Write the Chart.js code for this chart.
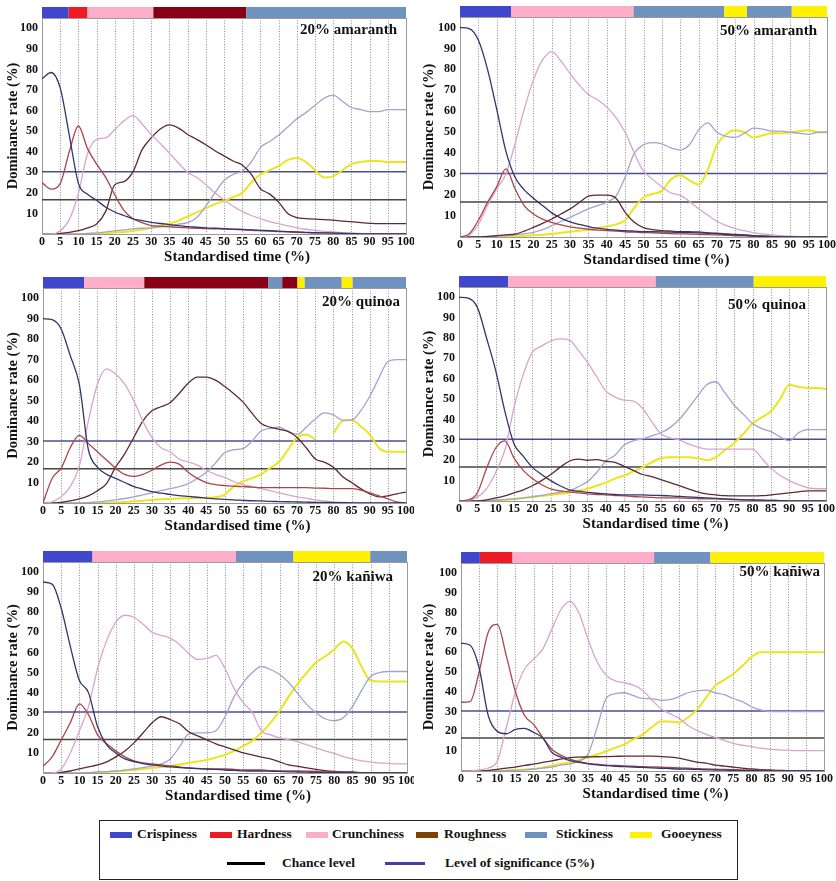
<!DOCTYPE html>
<html>
<head>
<meta charset="utf-8">
<title>Temporal dominance of sensations</title>
<script src="https://cdn.jsdelivr.net/npm/chart.js@4.4.1/dist/chart.umd.min.js"></script>
<style>
  html, body { margin: 0; padding: 0; background: #fff; }
  body { width: 836px; height: 881px; position: relative; overflow: hidden;
         font-family: "Liberation Serif", "Times New Roman", serif; }
  .panel { position: absolute; overflow: hidden; }
  .panel canvas { display: block; }
  #legend { position: absolute; left: 99px; top: 820px; width: 639px; height: 60px;
            border: 1px solid #222; box-sizing: border-box; }
  .item { position: absolute; font-weight: bold; font-size: 13.5px; color: #111;
          line-height: 16px; white-space: nowrap; }
  .swatch { position: absolute; height: 6px; width: 22px; }
  .rule { position: absolute; height: 3px; }
</style>
</head>
<body>

<div id="legend"></div>

<script>
// ---- data -------------------------------------------------------------
const time = [0, 2.5, 5, 7.5, 10, 12.5, 15, 17.5, 20, 22.5, 25, 27.5, 30, 32.5, 35, 37.5, 40,
  42.5, 45, 47.5, 50, 52.5, 55, 57.5, 60, 62.5, 65, 67.5, 70, 72.5, 75, 77.5, 80, 82.5, 85,
  87.5, 90, 92.5, 95, 97.5, 100];
const xTicks = [0, 5, 10, 15, 20, 25, 30, 35, 40, 45, 50, 55, 60, 65, 70, 75, 80, 85, 90, 95, 100];
const yTicks = [10, 20, 30, 40, 50, 60, 70, 80, 90, 100];
const attributes = ['Crispiness', 'Hardness', 'Crunchiness', 'Roughness', 'Stickiness', 'Gooeyness'];
const chanceLevel = 16.7;
const significanceLevel = 30.3;

// 20% amaranth
const am20Crispiness = [75.5, 78.5, 71, 48, 24.6, 19.3, 16.4, 13, 10.7, 9,
  7.4, 6.5, 5.7, 5.1, 4.6, 4.1, 3.6, 3.3, 3, 2.8,
  2.6, 2.4, 2.2, 2, 1.8, 1.6, 1.4, 1.2, 1, 0.8,
  0.6, 0.5, 0.4, 0.3, 0.2, 0.1, 0, 0, 0, 0, 0];
const am20Hardness = [25, 21.8, 24.5, 40, 52.5, 41.5, 34, 27.5, 19, 11.5,
  7.4, 5.5, 4.1, 3.8, 3.5, 3.2, 3, 2.8, 2.6, 2.5,
  2.4, 2.2, 2, 1.8, 1.6, 1.4, 1.2, 1, 0.8, 0.7,
  0.6, 0.5, 0.4, 0.3, 0.2, 0.1, 0, 0, 0, 0, 0];
const am20Crunchiness = [0, 0, 1.6, 7, 19.7, 39, 46, 46.7, 50.8, 55,
  57.5, 53.5, 48.4, 44, 39.3, 34.5, 30, 27.5, 24, 20,
  16.5, 13.5, 11, 9, 7.5, 6, 5, 4, 3, 2.3,
  1.8, 1.3, 1, 0.7, 0.5, 0.3, 0, 0, 0, 0, 0];
const am20Roughness = [0, 0, 0.3, 0.8, 1.6, 3, 4.9, 11, 24, 25.5,
  30.3, 41, 46.7, 51, 53, 51.5, 48.4, 46, 43.4, 40.5,
  38, 35.5, 33.5, 29, 22, 19.5, 15.5, 10, 8, 7.5,
  7.2, 7, 6.7, 6.3, 6, 5.5, 5.2, 5, 5, 5, 5];
const am20Stickiness = [0, 0, 0, 0, 0, 0.3, 0.5, 1, 1.5, 2,
  2.5, 2.8, 3, 3.5, 4, 4.8, 5.5, 8, 13.5, 20,
  26, 29, 30.5, 35, 42, 45, 48, 52, 56, 59,
  62.5, 66, 67.5, 64.5, 61.5, 60.5, 59.5, 59.5, 60.5, 60.5, 60.5];
const am20Gooeyness = [0, 0, 0, 0, 0, 0, 0.2, 0.4, 0.7, 1,
  1.5, 2, 3, 4, 5, 6.5, 8.5, 10.5, 12.5, 14.5,
  16, 18, 20, 25, 29, 31, 33, 36, 37, 35,
  31, 27.5, 28, 31, 34, 35, 35.5, 35.5, 35, 35, 35];
const am20Dominant = [[0, 7.3, 'Crispiness'], [7.3, 12.5, 'Hardness'], [12.5, 30.6, 'Crunchiness'],
  [30.6, 56.1, 'Roughness'], [56.1, 100, 'Stickiness']];

// 50% amaranth
const am50Crispiness = [100, 99.5, 94, 80, 61, 41, 28.5, 22.5, 18.5, 15,
  11.5, 9, 7.2, 6, 5, 4.2, 3.6, 3.3, 3, 2.8,
  2.6, 2.5, 2.4, 2.3, 2.2, 2.1, 2, 1.8, 1.6, 1.3,
  1, 0.8, 0.5, 0.3, 0.2, 0.1, 0, 0, 0, 0, 0];
const am50Hardness = [0, 1.5, 8, 16.5, 24, 32.5, 23, 15, 11, 8.5,
  7, 5.8, 4.8, 4.2, 3.7, 3.3, 3, 2.8, 2.5, 2.3,
  2.1, 2, 1.8, 1.6, 1.5, 1.4, 1.3, 1.1, 1, 0.8,
  0.6, 0.5, 0.3, 0.2, 0.1, 0, 0, 0, 0, 0, 0];
const am50Crunchiness = [0, 1, 6, 15, 23, 30, 44.5, 61, 75, 84.5,
  88.5, 84, 78, 72.5, 68, 65.5, 62, 57, 50, 40,
  31.5, 27.5, 24, 21, 20, 17, 13.5, 10.5, 7.5, 5.5,
  4, 3, 2, 1.5, 1, 0.6, 0.4, 0.2, 0, 0, 0];
const am50Roughness = [0, 0, 0, 0.3, 0.6, 1, 1.4, 2.8, 4.6, 6.5,
  8.6, 11, 13.4, 16.5, 19.5, 20, 20, 18.5, 11.8, 7,
  4.5, 3.5, 3, 2.8, 2.6, 2.5, 2.4, 2, 1.8, 1.5,
  1.2, 1, 0.7, 0.5, 0.3, 0.1, 0, 0, 0, 0, 0];
const am50Stickiness = [0, 0, 0, 0.2, 0.4, 0.7, 1, 1.6, 2.2, 3.5,
  5.4, 7.4, 9.4, 11.4, 13.4, 15, 16.6, 19.5, 28.6, 40,
  44, 45, 44.5, 42.5, 41.5, 44, 51, 54.5, 50, 48,
  47.5, 49.5, 52, 51.5, 50.5, 50.5, 50, 49.5, 49, 50, 50];
const am50Gooeyness = [0, 0, 0, 0, 0.1, 0.2, 0.3, 0.5, 0.8, 1.1,
  1.5, 2, 2.5, 3, 3.5, 4.2, 5, 6, 8, 14,
  19, 20.5, 22, 27.5, 29.5, 27, 25, 32, 44, 49,
  51, 50, 47.5, 48.5, 49.5, 49.5, 50, 50.5, 51, 50, 50];
const am50Dominant = [[0, 13.9, 'Crispiness'], [13.9, 47.3, 'Crunchiness'], [47.3, 72, 'Stickiness'],
  [72, 78.2, 'Gooeyness'], [78.2, 90.4, 'Stickiness'], [90.4, 100, 'Gooeyness']];

// 20% quinoa
const qu20Crispiness = [90, 89.5, 85, 72, 58, 26, 17.5, 14, 12, 10,
  8, 6.8, 5.5, 4.8, 4.2, 3.6, 3.2, 2.8, 2.4, 2,
  1.8, 1.5, 1.3, 1.1, 1, 0.8, 0.7, 0.6, 0.5, 0.4,
  0.3, 0.3, 0.2, 0.2, 0.1, 0, 0, 0, 0, 0, 0];
const qu20Hardness = [0, 12, 17, 27, 33, 29, 25, 21, 17, 14,
  13, 14, 16, 18.5, 20, 19, 15, 12, 10, 9,
  8.5, 8.2, 8, 7.8, 7.5, 7.5, 7.5, 7.5, 7.5, 7.5,
  7.3, 7.2, 7, 7, 7, 6.3, 5, 3.5, 2, 0.5, 0];
const qu20Crunchiness = [0, 0.5, 3, 8, 18, 40, 58, 65.5, 63, 58,
  50, 40, 32, 27, 25, 21.5, 20, 18.5, 16, 14,
  12.5, 10.5, 9, 8, 7, 6, 5, 4, 3, 2.3,
  1.5, 1, 0.5, 0.3, 0.2, 0.1, 0, 0, 0, 0, 0];
const qu20Roughness = [0, 0, 0.3, 1, 2, 3.5, 6, 9.5, 17.5, 24,
  32, 40, 45, 47, 49, 53.5, 58.5, 61.5, 61.5, 60,
  57, 53.5, 49.5, 44, 39, 37, 36, 35, 32, 27,
  21.5, 20, 17.5, 13, 10, 7, 4.5, 3, 3.5, 4.5, 5.3];
const qu20Stickiness = [0, 0, 0, 0, 0, 0.2, 0.5, 1, 1.5, 2.2,
  3, 4, 5, 6, 7, 8, 9.5, 12, 15, 19.5,
  24.5, 26, 26.5, 30, 35, 36.5, 37, 35, 33.5, 37,
  41, 44, 43, 40.5, 40.5, 45, 52, 61, 69, 70, 70];
const qu20Gooeyness = [0, 0, 0, 0, 0, 0, 0, 0.2, 0.3, 0.5,
  0.8, 1.1, 1.5, 1.8, 2, 2.2, 2.3, 2.4, 2.5, 2.8,
  4, 8, 10.5, 12, 14, 17, 20, 26, 32, 33.5,
  31, null, 34, 40, 40.5, 37.5, 33.5, 27, 25, 25, 25];
const qu20Dominant = [[0, 11.3, 'Crispiness'], [11.3, 27.9, 'Crunchiness'], [27.9, 62.1, 'Roughness'],
  [62.1, 65.9, 'Stickiness'], [65.9, 70.1, 'Roughness'], [70.1, 72.1, 'Gooeyness'],
  [72.1, 82.3, 'Stickiness'], [82.3, 85.3, 'Gooeyness'], [85.3, 100, 'Stickiness']];

// 50% quinoa
const qu50Crispiness = [100, 99.5, 95, 80, 64, 44, 28, 22, 16.5, 13,
  10, 7.5, 5.5, 4.8, 4.2, 3.8, 3.5, 3.2, 3, 3,
  3, 2.8, 2.7, 2.5, 2.3, 2, 1.8, 1.5, 1.3, 1,
  0.8, 0.6, 0.5, 0.4, 0.3, 0.2, 0.1, 0, 0, 0, 0];
const qu50Hardness = [0, 0.5, 4, 16, 26, 29.5, 21, 15, 11, 8,
  6, 5, 4.5, 4, 3.5, 3.2, 3, 2.7, 2.5, 2.2,
  2, 1.8, 1.5, 1.5, 1.5, 1.3, 1.2, 1, 1, 0.8,
  0.7, 0.6, 0.5, 0.4, 0.3, 0.2, 0.1, 0, 0, 0, 0];
const qu50Crunchiness = [0, 0.3, 2, 6, 14, 25, 46, 62, 73, 76,
  78.5, 79.5, 79, 74, 68, 61, 54, 51, 49.5, 49,
  45.5, 39, 33, 31, 30, 28, 26.5, 25.5, 25.5, 25.5,
  25.5, 25.5, 25.5, 21, 16, 12.5, 10, 8, 6.5, 6, 6];
const qu50Roughness = [0, 0, 0, 0.5, 1.5, 2.5, 4, 5.5, 7.5, 10,
  13, 16.5, 19.5, 20.5, 20, 20.3, 19.5, 19, 17, 15,
  13, 12, 10.5, 9, 7.5, 6, 4.5, 3.5, 3, 2.6,
  2.5, 2.5, 2.5, 2.6, 3, 3.5, 4, 4.5, 5, 5, 5];
const qu50Stickiness = [0, 0, 0, 0.2, 0.5, 0.7, 1, 1.5, 2, 2.8,
  3.5, 4.3, 5, 7, 9.5, 14, 19.5, 22.5, 27.5, 29.5,
  30.5, 32, 33.5, 36, 40, 45.5, 51.5, 57, 58.5, 53,
  47, 42.5, 38, 35.5, 34, 31.5, 29.5, 33.5, 35, 35, 35];
const qu50Gooeyness = [0, 0, 0, 0, 0.3, 0.6, 1, 1.5, 2, 2.5,
  3, 3.5, 4, 5, 6, 7.5, 9, 11, 12.5, 14.5,
  16.5, 19, 21, 21.5, 21.5, 21.5, 21, 20, 21.5, 25,
  28.5, 33, 38, 41, 44, 50, 57, 56, 55.5, 55.5, 55];
const qu50Dominant = [[0, 13.4, 'Crispiness'], [13.4, 53.6, 'Crunchiness'], [53.6, 80.3, 'Stickiness'],
  [80.3, 100, 'Gooeyness']];

// 20% kañiwa
const ka20Crispiness = [95, 94, 82, 63, 46, 40, 23, 14, 10, 7,
  5.7, 4.7, 4, 3.5, 3, 2.7, 2.5, 2.2, 2, 1.8,
  1.5, 1.3, 1.1, 1, 1, 0.9, 0.8, 0.6, 0.5, 0.4,
  0.3, 0.3, 0.3, 0.2, 0.1, 0.1, 0, 0, 0, 0, 0];
const ka20Hardness = [3.3, 8, 16.4, 25, 34.4, 29, 19, 14.5, 11, 8,
  6, 5, 4.5, 4, 3.5, 3, 2.5, 2.3, 2, 2,
  2, 1.8, 1.5, 1.5, 1.5, 1.2, 1, 1, 1, 0.9,
  0.8, 0.6, 0.5, 0.4, 0.3, 0.1, 0, 0, 0, 0, 0];
const ka20Crunchiness = [0, 0, 2, 10, 21, 33, 52, 66, 75, 78.5,
  77.5, 74, 70, 68.5, 67, 64, 59.5, 56.5, 57, 58.5,
  52, 42, 35, 30, 21, 19, 17.5, 16.5, 15.5, 14,
  12.5, 11, 9.8, 8.2, 7, 6, 5.5, 5, 4.8, 4.5, 4.5];
const ka20Roughness = [0, 0, 0.3, 1, 2, 3, 4, 5.5, 8, 11,
  15, 20, 25, 28, 26.5, 24.5, 20.5, 18.5, 16.5, 14.5,
  13, 11.5, 10, 9, 7.9, 7, 5.5, 4, 3.3, 2.5,
  1.8, 1.2, 0.8, 0.6, 0.5, 0.2, 0, 0, 0, 0, 0];
const ka20Stickiness = [0, 0, 0, 0, 0, 0.2, 0.5, 0.7, 1, 1.5,
  2, 2.7, 3.5, 4.5, 7, 13, 19.5, 20, 20, 21,
  28, 38, 45, 50, 53, 51.5, 49, 45, 39.5, 34,
  30, 27, 26, 27.5, 33, 41, 48, 50, 50.5, 50.5, 50.5];
const ka20Gooeyness = [0, 0, 0, 0, 0, 0.1, 0.3, 0.5, 0.8, 1.1,
  1.5, 2, 2.5, 3, 3.5, 4.2, 5, 5.7, 6.5, 7.7,
  9, 11, 13.5, 16, 20, 25, 31, 38, 44.5, 50,
  55, 58, 61.5, 65.5, 62, 53, 46, 45.5, 45.5, 45.5, 45.5];
const ka20Dominant = [[0, 13.6, 'Crispiness'], [13.6, 53, 'Crunchiness'], [53, 68.8, 'Stickiness'],
  [68.8, 89.9, 'Gooeyness'], [89.9, 100, 'Stickiness']];

// 50% kañiwa
const ka50Crispiness = [64.5, 63.5, 52, 28, 20, 18.8, 21, 21.5, 19.5, 16.7,
  9.5, 7, 5.2, 4.3, 3.6, 3.1, 2.7, 2.4, 2.2, 2,
  1.8, 1.6, 1.4, 1.2, 1, 0.9, 0.8, 0.6, 0.5, 0.4,
  0.3, 0.2, 0.2, 0.1, 0, 0, 0, 0, 0, 0, 0];
const ka50Hardness = [34.7, 35, 50, 70, 74, 58, 40, 28, 23.5, 17,
  11, 8, 6, 4.8, 3.8, 3.4, 3, 2.8, 2.6, 2.4,
  2.2, 2.1, 2, 1.8, 1.6, 1.4, 1.2, 1, 0.9, 0.8,
  0.7, 0.6, 0.5, 0.4, 0.3, 0.2, 0.1, 0, 0, 0, 0];
const ka50Crunchiness = [0, 0, 0.5, 1.5, 5, 22, 40, 51.5, 56.5, 61.5,
  71.5, 81.4, 85.6, 79.8, 66.5, 55, 48.3, 45.5, 44.6, 43.3,
  40.8, 36, 31.6, 29, 26.7, 23, 20.5, 18.5, 17, 15.5,
  14, 13, 12.3, 11.5, 11, 10.7, 10.5, 10.3, 10.3, 10.3, 10.3];
const ka50Roughness = [0, 0, 0, 0.3, 0.8, 1.5, 2, 2.8, 3.5, 4.3,
  5.1, 6, 6.8, 7, 7.1, 7.2, 7.3, 7.4, 7.5, 7.5,
  7.5, 7.5, 7.3, 7, 6.5, 5.5, 4.5, 4, 3, 2.5,
  2, 1.5, 1, 0.7, 0.5, 0.3, 0.2, 0, 0, 0, 0];
const ka50Stickiness = [0, 0, 0, 0, 0, 0.2, 0.3, 0.6, 1, 1.5,
  2, 3, 3.5, 5, 8.5, 22, 36.7, 39, 39.5, 38,
  36.7, 36.5, 35.7, 36, 37.5, 39.5, 40.5, 40.8, 39.5, 38.5,
  36.6, 35, 32.5, 30.8, 30, 30, 30, 30, 30, 30, 30];
const ka50Gooeyness = [0, 0, 0, 0, 0, 0.2, 0.5, 0.7, 1, 1.7,
  2.7, 3.5, 4.3, 5.5, 6.8, 8.3, 10, 11.7, 13.4, 16,
  18.4, 22, 25, 25, 24.5, 27, 31, 37, 43, 46,
  49, 53, 57.5, 60, 60, 60, 60, 60, 60, 60, 60];
const ka50Dominant = [[0, 5.2, 'Crispiness'], [5.2, 14.2, 'Hardness'], [14.2, 53.2, 'Crunchiness'],
  [53.2, 68.7, 'Stickiness'], [68.7, 100, 'Gooeyness']];

// ---- styles -----------------------------------------------------------
const curveColor = {
  Crispiness: '#34346e', Hardness: '#a8464a', Crunchiness: '#d9a4cf',
  Roughness: '#5c2a30', Stickiness: '#a3a3d0', Gooeyness: '#ece51e'
};
const bandColor = {
  Crispiness: '#3f48cc', Hardness: '#ed1c24', Crunchiness: '#ffaec9',
  Roughness: '#880015', Stickiness: '#7092be', Gooeyness: '#fff200'
};
const legendColor = {
  Crispiness: '#3f48cc', Hardness: '#ed1c24', Crunchiness: '#ffaec9',
  Roughness: '#7f4000', Stickiness: '#7092be', Gooeyness: '#fff200'
};
const chanceColor = '#454545';
const significanceColor = '#4b4d90';
const FONT = '"Liberation Serif", "Times New Roman", serif';

Chart.defaults.font.family = FONT;
Chart.defaults.font.weight = 'bold';
Chart.defaults.color = '#111';

// panel layout: plot rectangle in page pixels, label placement
const panels = [
  { name: '20% amaranth', col: 0, plot: { l: 42, r: 406, t: 18, b: 234 }, labelInset: 9, labelDrop: 12,
    series: [am20Crispiness, am20Hardness, am20Crunchiness, am20Roughness, am20Stickiness, am20Gooeyness],
    dominant: am20Dominant },
  { name: '50% amaranth', col: 1, plot: { l: 460, r: 827, t: 17, b: 237 }, labelInset: 10, labelDrop: 14,
    series: [am50Crispiness, am50Hardness, am50Crunchiness, am50Roughness, am50Stickiness, am50Gooeyness],
    dominant: am50Dominant },
  { name: '20% quinoa', col: 0, plot: { l: 43, r: 406, t: 288, b: 503 }, labelInset: 6, labelDrop: 14,
    series: [qu20Crispiness, qu20Hardness, qu20Crunchiness, qu20Roughness, qu20Stickiness, qu20Gooeyness],
    dominant: qu20Dominant },
  { name: '50% quinoa', col: 1, plot: { l: 459, r: 826, t: 287, b: 501 }, labelInset: 20, labelDrop: 18,
    series: [qu50Crispiness, qu50Hardness, qu50Crunchiness, qu50Roughness, qu50Stickiness, qu50Gooeyness],
    dominant: qu50Dominant },
  { name: '20% kañiwa', col: 0, plot: { l: 43, r: 407, t: 562, b: 773 }, labelInset: 14, labelDrop: 15,
    series: [ka20Crispiness, ka20Hardness, ka20Crunchiness, ka20Roughness, ka20Stickiness, ka20Gooeyness],
    dominant: ka20Dominant },
  { name: '50% kañiwa', col: 1, plot: { l: 461, r: 824, t: 563, b: 771 }, labelInset: 4, labelDrop: 9,
    series: [ka50Crispiness, ka50Hardness, ka50Crunchiness, ka50Roughness, ka50Stickiness, ka50Gooeyness],
    dominant: ka50Dominant }
];

const COLS = [{ left: 0, width: 414 }, { left: 414, width: 422 }];
const CANVAS_W = 440;
const TOP_SPACE = 16;
const BAND_H = 11;
const XAXIS_H = 34;

// draws grid, frame, dominance band, panel name and time axis title
const panelDecor = {
  id: 'panelDecor',
  beforeDatasetsDraw(chart) {
    const { ctx, chartArea: a, scales: { x } } = chart;
    ctx.save();
    ctx.strokeStyle = '#8d8d8d';
    ctx.lineWidth = 1;
    ctx.setLineDash([1, 1.6]);
    xTicks.forEach(v => {
      if (v <= 0 || v >= 100) return;
      const px = Math.round(x.getPixelForValue(v)) + 0.5;
      ctx.beginPath();
      ctx.moveTo(px, a.top);
      ctx.lineTo(px, a.bottom);
      ctx.stroke();
    });
    ctx.setLineDash([]);
    ctx.strokeStyle = '#9a9a9a';
    ctx.strokeRect(Math.round(a.left) + 0.5, Math.round(a.top) + 0.5,
      Math.round(a.right - a.left), Math.round(a.bottom - a.top));
    ctx.restore();
  },
  afterDraw(chart, args, opts) {
    const { ctx, chartArea: a, scales: { x } } = chart;
    ctx.save();
    opts.dominant.forEach(([from, to, attr]) => {
      const x1 = x.getPixelForValue(from);
      const x2 = x.getPixelForValue(to);
      ctx.fillStyle = bandColor[attr];
      ctx.fillRect(x1, a.top - BAND_H, x2 - x1, BAND_H);
    });
    ctx.fillStyle = '#111';
    ctx.font = 'bold 15px ' + FONT;
    ctx.textAlign = 'right';
    ctx.textBaseline = 'middle';
    ctx.fillText(opts.name, a.right - opts.labelInset, a.top + opts.labelDrop);
    ctx.textAlign = 'center';
    ctx.fillText('Standardised time (%)', (a.left + a.right) / 2 + 13, a.bottom + 23);
    ctx.restore();
  }
};

function buildPanel(p) {
  const col = COLS[p.col];
  const wrap = document.createElement('div');
  wrap.className = 'panel';
  const top = p.plot.t - TOP_SPACE;
  const height = p.plot.b - p.plot.t + TOP_SPACE + XAXIS_H;
  wrap.style.left = col.left + 'px';
  wrap.style.top = top + 'px';
  wrap.style.width = col.width + 'px';
  wrap.style.height = height + 'px';
  const canvas = document.createElement('canvas');
  canvas.width = CANVAS_W;
  canvas.height = height;
  canvas.style.width = CANVAS_W + 'px';
  canvas.style.height = height + 'px';
  wrap.appendChild(canvas);
  document.body.appendChild(wrap);

  const datasets = attributes.map((attr, k) => ({
    label: attr,
    data: time.map((t, i) => ({ x: t, y: p.series[k][i] })),
    borderColor: curveColor[attr],
    borderWidth: attr === 'Gooeyness' ? 2 : 1.3,
    cubicInterpolationMode: 'monotone',
    spanGaps: false,
    pointRadius: 0,
    fill: false
  }));
  datasets.push({
    label: 'Chance level',
    data: [{ x: 0, y: chanceLevel }, { x: 100, y: chanceLevel }],
    borderColor: chanceColor, borderWidth: 1.5, pointRadius: 0, fill: false
  });
  datasets.push({
    label: 'Level of significance (5%)',
    data: [{ x: 0, y: significanceLevel }, { x: 100, y: significanceLevel }],
    borderColor: significanceColor, borderWidth: 1.5, pointRadius: 0, fill: false
  });

  const yAxisW = p.plot.l - col.left;
  const padRight = CANVAS_W - (p.plot.r - col.left);

  new Chart(canvas, {
    type: 'line',
    data: { datasets },
    options: {
      responsive: false,
      animation: false,
      devicePixelRatio: 1,
      layout: { padding: { top: TOP_SPACE, right: padRight, bottom: 0, left: 0 } },
      plugins: {
        legend: { display: false },
        tooltip: { enabled: false },
        panelDecor: { name: p.name, dominant: p.dominant, labelInset: p.labelInset, labelDrop: p.labelDrop }
      },
      scales: {
        x: {
          type: 'linear', min: 0, max: 100,
          afterBuildTicks: s => { s.ticks = xTicks.map(v => ({ value: v })); },
          ticks: { font: { size: 12, weight: 'bold' }, color: '#111', padding: 1, maxRotation: 0, autoSkip: false },
          grid: { display: false, drawTicks: false },
          border: { display: false },
          afterFit: s => { s.height = XAXIS_H; }
        },
        y: {
          type: 'linear', min: 0, max: 105,
          afterBuildTicks: s => { s.ticks = yTicks.map(v => ({ value: v })); },
          ticks: { font: { size: 12, weight: 'bold' }, color: '#111', padding: 4 },
          grid: { display: false, drawTicks: false },
          border: { display: false },
          title: {
            display: true, text: 'Dominance rate (%)', color: '#111',
            font: { size: 14.5, weight: 'bold' },
            padding: { top: p.col === 0 ? 5 : 7, bottom: 0 }
          },
          afterFit: s => { s.width = yAxisW; }
        }
      }
    },
    plugins: [panelDecor]
  });
}

panels.forEach(buildPanel);

// ---- legend -------------------------------------------------------------
const legendItems = [
  { attr: 'Crispiness', swatch: 10, text: 37 },
  { attr: 'Hardness', swatch: 110, text: 137 },
  { attr: 'Crunchiness', swatch: 206, text: 232 },
  { attr: 'Roughness', swatch: 316, text: 344 },
  { attr: 'Stickiness', swatch: 425, text: 456 },
  { attr: 'Gooeyness', swatch: 530, text: 561 }
];
const legend = document.getElementById('legend');
legendItems.forEach(it => {
  const sw = document.createElement('div');
  sw.className = 'swatch';
  sw.style.left = it.swatch + 'px';
  sw.style.top = '11px';
  sw.style.background = legendColor[it.attr];
  legend.appendChild(sw);
  const tx = document.createElement('div');
  tx.className = 'item';
  tx.style.left = it.text + 'px';
  tx.style.top = '5px';
  tx.textContent = it.attr;
  legend.appendChild(tx);
});
[
  { label: 'Chance level', color: '#000', rule: [127, 38], text: 182 },
  { label: 'Level of significance (5%)', color: '#4040a8', rule: [285, 40], text: 345 }
].forEach(it => {
  const r = document.createElement('div');
  r.className = 'rule';
  r.style.left = it.rule[0] + 'px';
  r.style.width = it.rule[1] + 'px';
  r.style.top = '41px';
  r.style.background = it.color;
  legend.appendChild(r);
  const tx = document.createElement('div');
  tx.className = 'item';
  tx.style.left = it.text + 'px';
  tx.style.top = '34px';
  tx.textContent = it.label;
  legend.appendChild(tx);
});
</script>
</body>
</html>
